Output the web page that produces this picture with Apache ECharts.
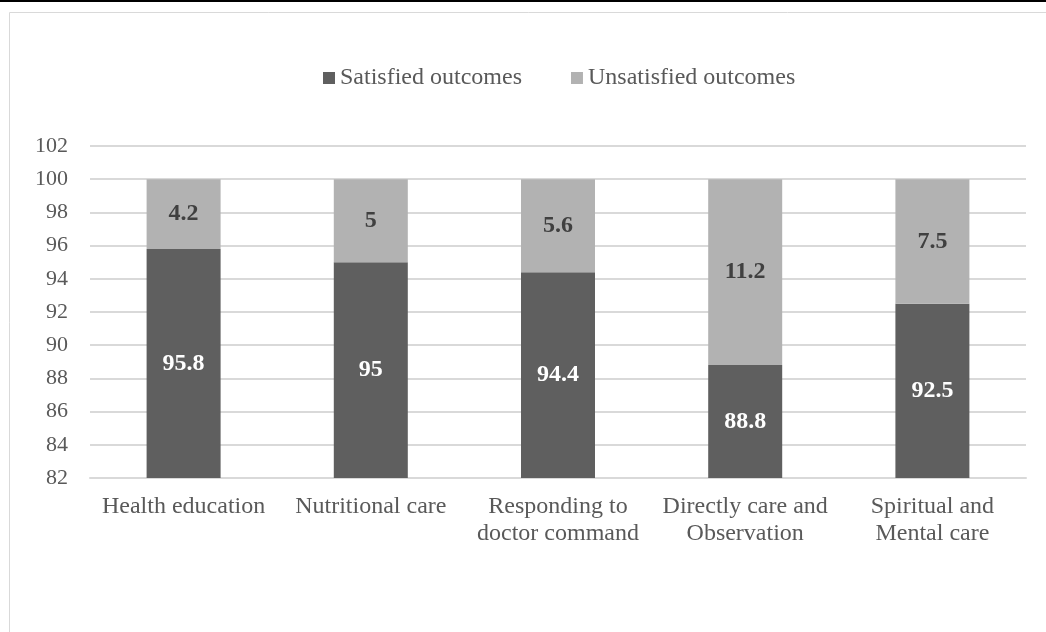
<!DOCTYPE html>
<html>
<head>
<meta charset="utf-8">
<script src="https://cdn.jsdelivr.net/npm/echarts@6/dist/echarts.min.js"></script>
<style>
  html, body { margin: 0; padding: 0; background: #fff; }
  #main { width: 1046px; height: 632px; }
</style>
</head>
<body>
<div id="main"></div>
<script>
  var categories = ['Health education', 'Nutritional care', 'Responding to\ndoctor command', 'Directly care and\nObservation', 'Spiritual and\nMental care'];
  var satisfied = [95.8, 95, 94.4, 88.8, 92.5];
  var unsatisfied = [4.2, 5, 5.6, 11.2, 7.5];
  var yTicks = [82, 84, 86, 88, 90, 92, 94, 96, 98, 100, 102];

  var font = '"Liberation Serif", "Times New Roman", serif';
  var myChart = echarts.init(document.getElementById('main'));
  var option = {
    animation: false,
    textStyle: { fontFamily: font },
    graphic: [
      { type: 'rect', shape: { x: 0, y: 0, width: 1046, height: 2 }, style: { fill: '#000' } },
      { type: 'rect', shape: { x: 9.5, y: 12.5, width: 1100, height: 700 }, style: { fill: 'none', stroke: '#d9d9d9', lineWidth: 1 } }
    ],
    legend: {
      top: 61,
      left: 318,
      itemWidth: 12,
      itemHeight: 12,
      itemGap: 49,
      icon: 'rect',
      textStyle: { fontFamily: font, fontSize: 24, color: '#595959' },
      data: ['Satisfied outcomes', 'Unsatisfied outcomes']
    },
    grid: { left: 90, right: 20, top: 146, bottom: 154 },
    xAxis: {
      type: 'category',
      data: categories,
      axisLine: { lineStyle: { color: '#d9d9d9', width: 2 } },
      axisTick: { show: false },
      axisLabel: { fontFamily: font, fontSize: 24, color: '#595959', lineHeight: 27, margin: 15, interval: 0 }
    },
    yAxis: {
      type: 'value',
      min: yTicks[0],
      max: yTicks[yTicks.length - 1],
      interval: 2,
      axisLine: { show: false },
      axisTick: { show: false },
      splitLine: { lineStyle: { color: '#d9d9d9', width: 2 } },
      axisLabel: { fontFamily: font, fontSize: 22, color: '#595959', margin: 22 }
    },
    series: [
      {
        name: 'Satisfied outcomes',
        type: 'bar',
        stack: 'total',
        barWidth: 74,
        data: satisfied,
        itemStyle: { color: '#5f5f5f' },
        label: { show: true, position: 'inside', color: '#ffffff', fontWeight: 'bold', fontSize: 24, fontFamily: font }
      },
      {
        name: 'Unsatisfied outcomes',
        type: 'bar',
        stack: 'total',
        barWidth: 74,
        data: unsatisfied,
        itemStyle: { color: '#b2b2b2' },
        label: { show: true, position: 'inside', color: '#404040', fontWeight: 'bold', fontSize: 24, fontFamily: font }
      }
    ]
  };
  myChart.setOption(option);
</script>
</body>
</html>
